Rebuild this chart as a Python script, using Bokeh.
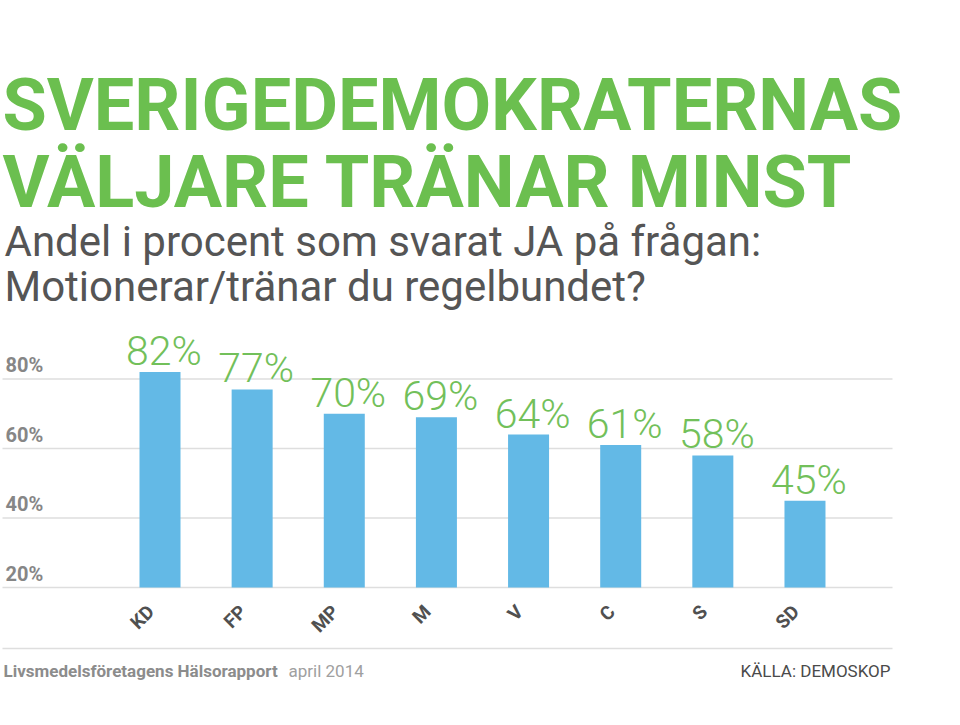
import math
from bokeh.plotting import figure
from bokeh.models import Range1d, Label, ColumnDataSource
from bokeh.core.properties import value
from bokeh.embed import file_html
from bokeh.resources import INLINE

# ---------------- data ----------------
parties = ["KD", "FP", "MP", "M", "V", "C", "S", "SD"]
shares = [82, 77, 70, 69, 64, 61, 58, 45]
share_labels = ["82%", "77%", "70%", "69%", "64%", "61%", "58%", "45%"]
y_ticks = [20, 40, 60, 80]
y_tick_labels = ["20%", "40%", "60%", "80%"]
title_lines = ["SVERIGEDEMOKRATERNAS", "VÄLJARE TRÄNAR MINST"]
subtitle_lines = ["Andel i procent som svarat JA på frågan:",
                  "Motionerar/tränar du regelbundet?"]
footer_source = "Livsmedelsföretagens Hälsorapport"
footer_date = "april 2014"
footer_credit = "KÄLLA: DEMOSKOP"

# ---------------- layout ----------------
W, H = 944, 709
PX_PER_CAT = 92.14
PX_PER_PCT = 3.475
FIRST_CAT_PX = 159.5
BASE_PX = 587
BASE_VAL = 20
DESC = 0.293  # font descent ratio (baseline compensation)

x_start = (0 - FIRST_CAT_PX) / PX_PER_CAT
x_end = (W - FIRST_CAT_PX) / PX_PER_CAT
y_top = BASE_VAL + BASE_PX / PX_PER_PCT
y_bot = BASE_VAL - (H - BASE_PX) / PX_PER_PCT


def x_from_page(px):
    return (px - FIRST_CAT_PX) / PX_PER_CAT


def y_from_page(py):
    return BASE_VAL - (py - BASE_PX) / PX_PER_PCT


def sy(py, size):
    return H - py + DESC * size


FONT = "Roboto"
GREEN = "#6bbf4f"
GREEN_LIGHT = "#72c05a"
BLUE = "#63b9e6"
GRID = "#dedede"

p = figure(width=W, height=H, x_range=Range1d(x_start, x_end),
           y_range=Range1d(y_bot, y_top), x_axis_type=None, y_axis_type=None,
           output_backend="svg", toolbar_location=None,
           min_border_left=0, min_border_right=0,
           min_border_top=0, min_border_bottom=0)
p.outline_line_color = None
p.background_fill_color = "white"
p.border_fill_color = "white"

# horizontal gridlines
gx0, gx1 = x_from_page(2), x_from_page(892)
p.segment(x0=gx0, x1=gx1, y0=y_ticks, y1=y_ticks, line_color=GRID, line_width=1.5)
# footer rule
p.segment(x0=gx0, x1=gx1, y0=y_from_page(648), y1=y_from_page(648),
          line_color=GRID, line_width=1.5)

idx = list(range(len(parties)))
src = ColumnDataSource(dict(x=idx, top=shares, lab=share_labels, party=parties))

p.vbar(x="x", top="top", bottom=BASE_VAL, width=0.445, source=src,
       fill_color=BLUE, line_color=None)

VAL_SIZE = 41
p.text(x="x", y="top", text="lab", source=src, x_offset=4,
       y_offset=-9 - DESC * VAL_SIZE,
       text_align="center", text_baseline="alphabetic",
       text_font=value("Roboto Light"), text_font_size=f"{VAL_SIZE}px",
       text_color=GREEN_LIGHT)

p.text(x="x", y=BASE_VAL, text="party", source=src, angle=math.pi / 4,
       x_offset=-9, y_offset=21, text_align="right", text_baseline="middle",
       text_font=value(FONT), text_font_style="bold", text_font_size="19px",
       text_color="#505050")

TICK_SIZE = 20
tick_src = ColumnDataSource(dict(y=y_ticks, lab=y_tick_labels))
p.text(x=x_from_page(5), y="y", text="lab", source=tick_src,
       y_offset=-8 - DESC * TICK_SIZE,
       text_align="left", text_baseline="alphabetic",
       text_font=value(FONT), text_font_style="bold", text_font_size=f"{TICK_SIZE}px",
       text_color="#868686")

TITLE_SIZE = 72
for line, base in zip(title_lines, [126, 203]):
    p.add_layout(Label(x=2, y=sy(base, TITLE_SIZE), x_units="screen", y_units="screen",
                       text=line, text_font=FONT, text_font_style="bold",
                       text_font_size=f"{TITLE_SIZE}px", text_color=GREEN,
                       text_baseline="alphabetic"))

SUB_SIZE = 42
for line, base in zip(subtitle_lines, [253, 298]):
    p.add_layout(Label(x=4, y=sy(base, SUB_SIZE), x_units="screen", y_units="screen",
                       text=line, text_font=FONT, text_font_size=f"{SUB_SIZE}px",
                       text_color="#555555", text_baseline="alphabetic"))

FOOT_SIZE = 17
p.add_layout(Label(x=3, y=sy(675, FOOT_SIZE), x_units="screen", y_units="screen",
                   text=footer_source, text_font=FONT, text_font_style="bold",
                   text_font_size=f"{FOOT_SIZE}px", text_color="#8c8c8c",
                   text_baseline="alphabetic"))
p.add_layout(Label(x=288, y=sy(675, FOOT_SIZE), x_units="screen", y_units="screen",
                   text=footer_date, text_font=FONT, text_font_size=f"{FOOT_SIZE}px",
                   text_color="#a0a0a0", text_baseline="alphabetic"))
p.add_layout(Label(x=890, y=sy(675, FOOT_SIZE), x_units="screen", y_units="screen",
                   text=footer_credit, text_font=FONT, text_font_size=f"{FOOT_SIZE}px",
                   text_color="#4a4a4a", text_baseline="alphabetic",
                   text_align="right"))

open("out.html", "w").write(file_html(p, INLINE))
